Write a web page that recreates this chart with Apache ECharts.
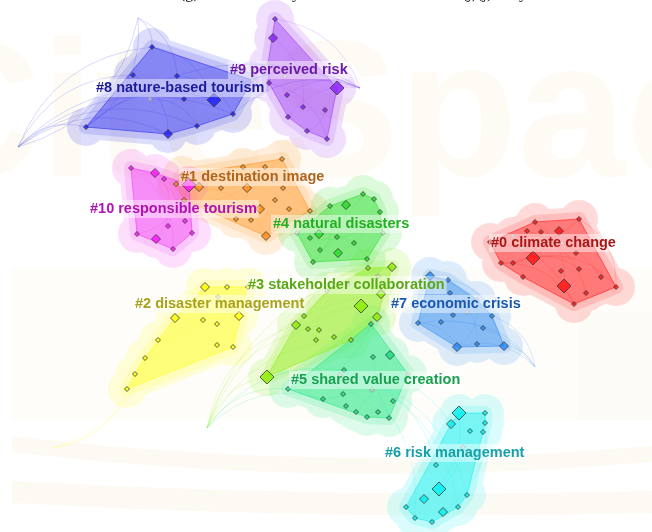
<!DOCTYPE html>
<html>
<head>
<meta charset="utf-8">
<script src="https://cdn.jsdelivr.net/npm/echarts@6/dist/echarts.min.js"></script>
<style>
html,body{margin:0;padding:0;background:#fff;}
#chart{width:652px;height:532px;}
</style>
</head>
<body>
<div id="chart"></div>
<script>
// Co-citation cluster map: nodes are [x, y, weight] in layout units.
// weight: 0 = faded node, 1 = small, 2 = medium, 3 = large, -1 = link endpoint only.

const clusterLabels = [
  '#0 climate change', '#1 destination image', '#2 disaster management',
  '#3 stakeholder collaboration', '#4 natural disasters', '#5 shared value creation',
  '#6 risk management', '#7 economic crisis', '#8 nature-based tourism',
  '#9 perceived risk', '#10 responsible tourism'
];
const labelAnchors = [
  [489, 243], [179, 177], [133, 304], [246, 285], [271, 224], [289, 380],
  [383, 453], [389, 304], [94, 88], [228, 70], [88, 209]
];

const nodes0 = [[579,219,1],[535,222,1],[527,231,1],[541,232,1],[559,231,2],[490,242,1],[513,236,0],
  [522,248,0],[562,243,0],[576,253,1],[533,258,3],[501,263,1],[513,263,1],[561,271,1],[579,269,1],
  [523,277,1],[601,277,1],[564,286,3],[586,293,1],[616,287,1],[574,304,1]];
const links0 = [[0,5],[1,17],[4,11],[10,19],[5,20],[2,18],[6,16],[12,14],[0,19],[11,20]];

const nodes1 = [[282,159,1],[243,167,1],[265,167,1],[182,175,1],[199,187,2],[176,184,1],[221,188,1],
  [247,188,2],[283,188,1],[273,180,0],[275,200,1],[260,209,2],[289,209,1],[310,211,1],[184,200,1],
  [236,219,1],[251,220,1],[266,236,2]];
const links1 = [[0,5],[3,13],[4,17],[1,15],[7,12],[2,14]];

const nodes2 = [[205,287,2],[227,287,1],[218,297,0],[248,287,1],[175,318,2],[203,320,1],[239,316,2],
  [217,324,1],[158,340,1],[217,345,1],[233,347,1],[145,358,1],[135,374,1],[127,389,1],[52,448,-1]];
const links2 = [[13,14],[11,14],[4,9],[0,10],[1,8],[12,6]];

const nodes3 = [[368,268,1],[392,267,2],[378,276,0],[348,284,0],[327,291,0],[381,294,2],[361,306,3],
  [377,317,2],[296,325,2],[304,316,1],[308,329,1],[319,330,1],[316,340,1],[334,337,1],[351,340,1],
  [267,377,3],[207,428,-1]];
const links3 = [[16,15],[16,8],[16,10],[16,1],[16,5],[16,14],[8,0],[15,6],[15,1],[12,3]];

const nodes4 = [[363,194,1],[374,199,1],[330,206,1],[346,205,2],[380,212,1],[297,233,0],[319,234,2],
  [310,238,1],[337,237,1],[354,243,1],[383,233,0],[320,250,1],[338,253,2],[367,259,1],[313,262,1]];
const links4 = [[0,5],[2,14],[1,12],[6,13],[3,11],[4,7]];

const nodes5 = [[371,324,1],[373,357,1],[390,355,2],[344,370,1],[340,375,0],[288,389,1],[372,390,0],
  [408,374,0],[323,399,1],[343,394,1],[393,401,1],[346,406,1],[356,412,1],[378,412,1],[367,417,1],
  [389,418,1],[207,428,-1]];
const links5 = [[0,5],[2,8],[3,15],[5,13],[1,12],[16,5],[16,8],[16,3]];

const nodes6 = [[459,413,3],[485,413,1],[485,423,1],[451,424,2],[470,431,1],[483,432,1],[463,447,0],
  [436,465,1],[439,489,3],[467,495,1],[424,499,2],[406,507,1],[458,507,1],[443,512,2],[415,518,1],
  [432,522,1],[345,372,-1]];
const links6 = [[16,9],[16,12],[16,14],[16,3],[16,7],[0,10],[1,13],[4,11]];

const nodes7 = [[430,276,2],[448,280,1],[438,281,0],[450,293,1],[477,300,0],[467,312,0],[453,315,1],
  [492,316,1],[418,323,1],[441,322,1],[483,328,1],[477,344,1],[457,347,2],[504,346,2],[535,367,-1]];
const links7 = [[8,14],[9,14],[12,14],[13,14],[7,14],[0,8],[0,13],[1,7],[8,12],[3,11],[4,12]];

const nodes8 = [[152,47,1],[133,75,1],[177,76,1],[150,99,0],[184,99,1],[214,100,3],[233,114,1],
  [197,126,1],[168,134,2],[86,127,1],[252,80,0],[18,147,-1],[138,18,-1],[360,88,-1]];
const links8 = [[11,9],[11,0],[11,8],[11,5],[11,6],[11,1],[11,7],[12,0],[12,9],[12,2],[12,11],
  [0,5],[1,8],[9,5],[2,6],[5,13],[6,13],[10,13],[3,7],[9,13]];

const nodes9 = [[275,19,1],[273,38,2],[337,88,3],[269,83,1],[287,95,1],[303,107,1],[325,110,1],
  [288,117,1],[307,131,1],[327,139,1],[268,64,0],[285,76,0],[360,88,-1]];
const links9 = [[0,12],[2,12],[4,12],[1,5],[3,9],[6,8],[10,11],[7,12]];

const nodes10 = [[131,168,1],[155,173,2],[164,179,1],[189,185,3],[185,221,1],[168,226,1],[192,233,1],
  [137,234,1],[156,239,2],[173,249,1]];
const links10 = [[0,9],[1,6],[3,7],[2,8],[0,4]];

const clusterNodes = [nodes0, nodes1, nodes2, nodes3, nodes4, nodes5, nodes6, nodes7, nodes8, nodes9, nodes10];
const clusterLinks = [links0, links1, links2, links3, links4, links5, links6, links7, links8, links9, links10];

// Styling
const areaColors = ['#ff2424','#ff9a2e','#ffff2a','#94ee22','#34e034','#2ee888','#22f0f0','#3c92f2','#3838ee','#a444f4','#f244f2'];
const nodeColors = ['#ff1010','#ff8c10','#ffff00','#88ee00','#22dd22','#10e080','#00f0f0','#2088ff','#1a1aff','#8a1aff','#ff10ff'];
const textColors = ['#a81818','#b0651e','#a8a21c','#5aa818','#22b022','#18a050','#18a0a8','#1a58b0','#1c1c9c','#6b1aa8','#b012b0'];
const symbolSizes = {0: 5, 1: 5, 2: 9, 3: 14};

function rgba(hex, a) {
  const n = parseInt(hex.slice(1), 16);
  return 'rgba(' + ((n >> 16) & 255) + ',' + ((n >> 8) & 255) + ',' + (n & 255) + ',' + a + ')';
}

function convexHull(points) {
  const p = points.slice().sort((a, b) => a[0] - b[0] || a[1] - b[1]);
  if (p.length < 3) return p;
  const cross = (o, a, b) => (a[0] - o[0]) * (b[1] - o[1]) - (a[1] - o[1]) * (b[0] - o[0]);
  const lower = [], upper = [];
  for (const q of p) {
    while (lower.length >= 2 && cross(lower[lower.length - 2], lower[lower.length - 1], q) <= 0) lower.pop();
    lower.push(q);
  }
  for (let i = p.length - 1; i >= 0; i--) {
    const q = p[i];
    while (upper.length >= 2 && cross(upper[upper.length - 2], upper[upper.length - 1], q) <= 0) upper.pop();
    upper.push(q);
  }
  upper.pop(); lower.pop();
  return lower.concat(upper);
}

// make polygon wind the same way as SVG arcs with sweep=1 (clockwise on screen)
function orient(poly) {
  let s = 0;
  for (let i = 0; i < poly.length; i++) {
    const a = poly[i], b = poly[(i + 1) % poly.length];
    s += a[0] * b[1] - b[0] * a[1];
  }
  return s < 0 ? poly.slice().reverse() : poly;
}

function grow(poly, r) {
  const s = [];
  poly.forEach(p => {
    for (let k = 0; k < 24; k++) {
      const a = k * Math.PI / 12;
      s.push([p[0] + r * Math.cos(a), p[1] + r * Math.sin(a)]);
    }
  });
  return orient(convexHull(s));
}

function polyPath(poly) {
  return poly.map((p, i) => (i ? 'L' : 'M') + p[0].toFixed(1) + ' ' + p[1].toFixed(1)).join(' ') + ' Z ';
}
function circlePath(c, r) {
  const x = c[0], y = c[1];
  return 'M' + (x + r) + ' ' + y + ' A' + r + ' ' + r + ' 0 1 1 ' + (x - r) + ' ' + y +
    ' A' + r + ' ' + r + ' 0 1 1 ' + (x + r) + ' ' + y + ' Z ';
}

function pixelNodes(ci, api) {
  return clusterNodes[ci].filter(n => n[2] >= 0).map(n => api.coord([n[0], n[1]]));
}

// faint logo in the background
function renderBackdrop(params, api) {
  const o = api.coord([0, 0]);
  const sx = (api.coord([652, 0])[0] - o[0]) / 652;
  const P = (x, y) => [o[0] + x * sx, o[1] + y * sx];
  const band = (y0, y1, dip) => {
    const a = P(12, y0), m = P(330, y0 + dip), b = P(652, y0 + 10), c = P(652, y1 + 10), n = P(330, y1 + dip), d = P(12, y1);
    return 'M' + a.join(' ') + ' Q' + m.join(' ') + ' ' + b.join(' ') + ' L' + c.join(' ') + ' Q' + n.join(' ') + ' ' + d.join(' ') + ' Z';
  };
  const r1 = P(12, 268), r2 = P(578, 312), t = P(-100, 122);
  return {
    type: 'group',
    children: [
      { type: 'rect', shape: { x: r1[0], y: r1[1], width: 640 * sx, height: 152 * sx }, style: { fill: '#fefdf9' } },
      { type: 'rect', shape: { x: r2[0], y: r2[1], width: 74 * sx, height: 108 * sx }, style: { fill: '#fdfbf5' } },
      { type: 'path', shape: { pathData: band(436, 452, 38) }, style: { fill: '#fdfaf4' } },
      { type: 'path', shape: { pathData: band(481, 503, 18) }, style: { fill: '#fdfaf4' } },
      { type: 'text', x: t[0], y: t[1],
        style: { text: 'CiteSpace', font: 'bold 195px "Liberation Sans", Arial, sans-serif', fill: '#fdfbf3', verticalAlign: 'middle' } }
    ]
  };
}

function renderHalo(params, api) {
  const ci = api.value(0);
  const pts = pixelNodes(ci, api);
  const hull = orient(convexHull(pts));
  let outer = polyPath(grow(hull, 12));
  pts.forEach(p => { outer += circlePath(p, 19); });
  const inner = polyPath(grow(hull, 7));
  return {
    type: 'group',
    children: [
      { type: 'path', shape: { pathData: outer }, style: { fill: rgba(areaColors[ci], 0.17) } },
      { type: 'path', shape: { pathData: inner }, style: { fill: rgba(areaColors[ci], 0.16) } }
    ]
  };
}

function renderHull(params, api) {
  const ci = api.value(0);
  const hull = orient(convexHull(pixelNodes(ci, api)));
  return {
    type: 'polygon',
    shape: { points: hull },
    style: { fill: rgba(areaColors[ci], 0.44), stroke: rgba(areaColors[ci], 0.65), lineWidth: 1 }
  };
}

function renderLabel(params, api) {
  const ci = api.value(0);
  const pos = api.coord(labelAnchors[ci]);
  return {
    type: 'text',
    x: pos[0], y: pos[1],
    style: {
      text: clusterLabels[ci],
      fill: textColors[ci],
      font: 'bold 14.5px "Liberation Sans", Arial, sans-serif',
      align: 'left', verticalAlign: 'middle',
      backgroundColor: 'rgba(255,255,255,0.45)',
      padding: [2, 2, 1, 2]
    }
  };
}

const clusterIds = clusterNodes.map((_, i) => [i, 0]);

const series = [
  { type: 'custom', name: 'backdrop', z: 1, silent: true, clip: false, data: [[0, 0]], renderItem: renderBackdrop },
  { type: 'custom', name: 'halo', z: 2, silent: true, clip: false, data: clusterIds, renderItem: renderHalo },
  { type: 'custom', name: 'hull', z: 3, silent: true, clip: false, data: clusterIds, renderItem: renderHull }
];

clusterNodes.forEach((nodes, ci) => {
  series.push({
    type: 'lines',
    coordinateSystem: 'cartesian2d',
    z: 4, silent: true,
    lineStyle: { color: areaColors[ci], width: 0.7, opacity: 0.28, curveness: 0.3 },
    data: clusterLinks[ci].map(l => ({
      coords: [[nodes[l[0]][0], nodes[l[0]][1]], [nodes[l[1]][0], nodes[l[1]][1]]]
    }))
  });
});

clusterNodes.forEach((nodes, ci) => {
  series.push({
    type: 'scatter',
    z: 5, silent: true,
    symbol: 'diamond',
    data: nodes.filter(n => n[2] >= 0).map(n => ({
      value: [n[0], n[1]],
      symbolSize: symbolSizes[n[2]],
      itemStyle: n[2] === 0
        ? { color: 'rgba(200,200,200,0.8)', borderColor: 'rgba(120,120,120,0.8)', borderWidth: 0.8 }
        : { color: nodeColors[ci], borderColor: '#3a3a3a', borderWidth: 1 }
    }))
  });
});

series.push({ type: 'custom', name: 'labels', z: 6, silent: true, clip: false, data: clusterIds, renderItem: renderLabel });

const headFont = '16px "Liberation Serif", serif';
const chart = echarts.init(document.getElementById('chart'), null, { renderer: 'canvas' });
chart.setOption({
  backgroundColor: '#ffffff',
  animation: false,
  grid: { left: 0, right: 0, top: 0, bottom: 0 },
  xAxis: { type: 'value', min: 0, max: 652, show: false },
  yAxis: { type: 'value', min: 0, max: 532, inverse: true, show: false },
  graphic: {
    elements: [
      // clipped header line at the very top
      { type: 'text', z: 10, x: 180, y: 2, style: { text: '(g)', font: headFont, fill: '#111', verticalAlign: 'bottom' } },
      { type: 'text', z: 10, x: 292, y: 2, style: { text: 'y', font: headFont, fill: '#111', verticalAlign: 'bottom' } },
      { type: 'text', z: 10, x: 462, y: 2, style: { text: '(j)(j)', font: headFont, fill: '#111', verticalAlign: 'bottom' } },
      { type: 'text', z: 10, x: 519, y: 2, style: { text: 'y', font: headFont, fill: '#111', verticalAlign: 'bottom' } }
    ]
  },
  series: series
});
</script>
</body>
</html>
